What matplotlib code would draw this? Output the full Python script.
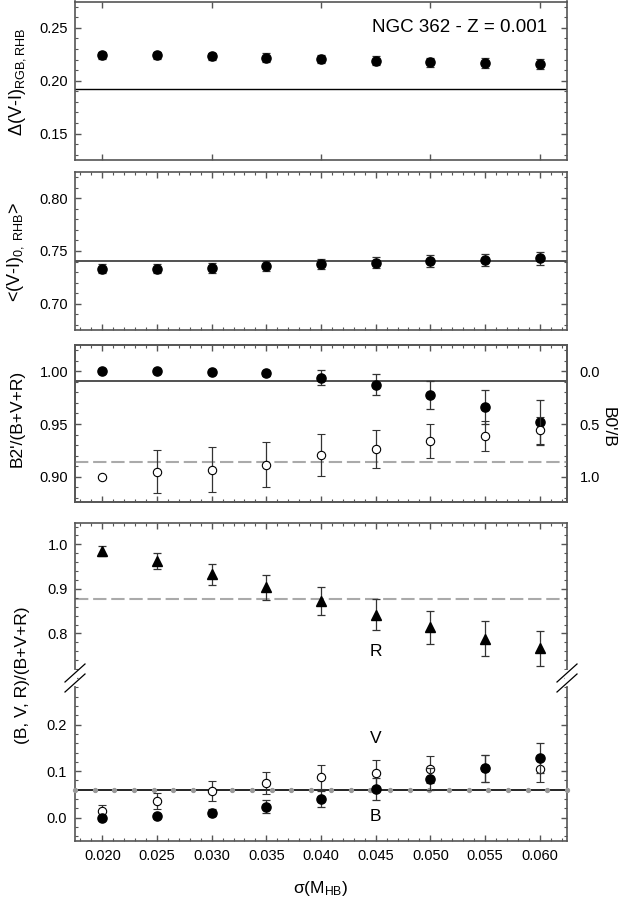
import numpy as np
import matplotlib
matplotlib.use('Agg')
import matplotlib.pyplot as plt
from matplotlib.ticker import MultipleLocator, FormatStrFormatter
from matplotlib.lines import Line2D

plt.rcParams['font.family'] = ['Liberation Sans', 'DejaVu Sans']
plt.rcParams['mathtext.fontset'] = 'custom'
plt.rcParams['mathtext.rm'] = 'Liberation Sans'
plt.rcParams['mathtext.it'] = 'Liberation Sans:italic'

# sigma(M_HB) values
sigma = [0.020, 0.025, 0.030, 0.035, 0.040, 0.045, 0.050, 0.055, 0.060]

# panel 1: Delta(V-I) RGB,RHB
dvi = [0.224, 0.224, 0.223, 0.222, 0.2205, 0.219, 0.2175, 0.2168, 0.2157]
dvi_err = [0.003, 0.003, 0.0035, 0.004, 0.004, 0.0042, 0.0045, 0.0048, 0.005]
dvi_ref = 0.1925

# panel 2: <(V-I)0,RHB>
vi0 = [0.7333, 0.7333, 0.7340, 0.7358, 0.7375, 0.7390, 0.7405, 0.7415, 0.7430]
vi0_err = [0.004, 0.0045, 0.0045, 0.005, 0.005, 0.0052, 0.0055, 0.0055, 0.006]
vi0_ref = 0.7402

# panel 3: B2'/(B+V+R) (left) and B0'/B (right)
b2 = [1.000, 1.000, 0.9995, 0.998, 0.994, 0.9875, 0.9778, 0.9665, 0.9515]
b2_err = [0.0004, 0.0004, 0.0008, 0.002, 0.0073, 0.0104, 0.0135, 0.016, 0.021]
b2_ref = 0.991
b0 = [1.00, 0.953, 0.932, 0.885, 0.797, 0.734, 0.664, 0.612, 0.56]
b0_err = [0.0, 0.205, 0.21, 0.21, 0.20, 0.18, 0.16, 0.145, 0.13]
b0_ref = 0.86

# panel 4: B, V, R fractions
frac_r = [0.985, 0.9625, 0.933, 0.9036, 0.8733, 0.8418, 0.8135, 0.788, 0.7663]
frac_r_err = [0.0116, 0.018, 0.0236, 0.028, 0.031, 0.035, 0.037, 0.039, 0.040]
frac_r_ref = 0.878
frac_b = [0.0, 0.003, 0.011, 0.024, 0.040, 0.062, 0.083, 0.106, 0.129]
frac_b_err = [0.002, 0.003, 0.007, 0.014, 0.018, 0.023, 0.024, 0.029, 0.032]
frac_v = [0.015, 0.036, 0.057, 0.074, 0.087, 0.096, 0.104, 0.106, 0.105]
frac_v_err = [0.012, 0.018, 0.0216, 0.024, 0.026, 0.029, 0.029, 0.029, 0.028]
frac_b_ref = 0.060

W, H = 623, 900
XL, XR = 75, 567
XLIM = (0.0175, 0.0625)
SPINE = '#555555'
ECOL = '#333333'

fig = plt.figure(figsize=(W / 100, H / 100), dpi=100)


def px_axes(top, bottom):
    return fig.add_axes([XL / W, 1 - bottom / H, (XR - XL) / W, (bottom - top) / H])


def px_text(x, y, s, **kw):
    kw.setdefault('ha', 'center')
    kw.setdefault('va', 'center')
    kw.setdefault('fontsize', 12.5)
    return fig.text(x / W, 1 - y / H, s, **kw)


def style(ax, ymin_step, xfine=True):
    for s in ax.spines.values():
        s.set_color(SPINE)
        s.set_linewidth(1.2)
    ax.tick_params(which='both', direction='in', top=True, right=True,
                   colors=SPINE, labelcolor='black', labelsize=10.5, pad=5)
    ax.tick_params(which='major', length=4, width=1)
    ax.tick_params(which='minor', length=2.2, width=0.8)
    ax.yaxis.set_minor_locator(MultipleLocator(ymin_step))
    if xfine:
        ax.xaxis.set_major_locator(MultipleLocator(0.005))
        ax.xaxis.set_minor_locator(MultipleLocator(0.001))
    else:
        ax.xaxis.set_major_locator(MultipleLocator(0.01))
    ax.set_xlim(*XLIM)
    ax.tick_params(labelbottom=False)


def filled(ax, y, e, marker='o', ms=6.6):
    ax.errorbar(sigma, y, yerr=e, fmt=marker, ms=ms, mfc='black', mec='black',
                ecolor=ECOL, elinewidth=0.9, capsize=2.7, capthick=0.9, zorder=5)


def hollow(ax, y, e):
    ax.errorbar(sigma, y, yerr=e, fmt='o', ms=6, mfc='white', mec='black', mew=0.8,
                ecolor=ECOL, elinewidth=0.9, capsize=2.7, capthick=0.9, zorder=4)


# Panel 1
ax1 = px_axes(1.5, 160)
style(ax1, 0.01, xfine=False)
ax1.set_ylim(0.125, 0.275)
ax1.set_yticks([0.15, 0.20, 0.25])
ax1.yaxis.set_major_formatter(FormatStrFormatter('%.2f'))
ax1.axhline(dvi_ref, color='black', lw=1.0, zorder=2)
filled(ax1, dvi, dvi_err)
ax1.text(0.0607, 0.25, 'NGC 362 - Z = 0.001', ha='right', va='center', fontsize=13.5)
px_text(18, 82, 'Δ(V-I)$_{\\mathrm{RGB,RHB}}$', rotation=90, fontsize=13)

# Panel 2
ax2 = px_axes(172, 330)
style(ax2, 0.01)
ax2.set_ylim(0.675, 0.825)
ax2.set_yticks([0.70, 0.75, 0.80])
ax2.yaxis.set_major_formatter(FormatStrFormatter('%.2f'))
ax2.axhline(vi0_ref, color='#333333', lw=1.2, zorder=2)
filled(ax2, vi0, vi0_err)
px_text(16, 252, '<(V-I)$_{\\mathrm{0,\\ RHB}}$>', rotation=90, fontsize=13)

# Panel 3
ax3 = px_axes(345, 502)
style(ax3, 0.01)
ax3.tick_params(which='both', right=False)
ax3.set_ylim(0.876, 1.025)
ax3.set_yticks([0.90, 0.95, 1.00])
ax3.yaxis.set_major_formatter(FormatStrFormatter('%.2f'))
ax3.axhline(b2_ref, color='#333333', lw=1.2, zorder=2)
filled(ax3, b2, b2_err)
px_text(17, 418, "B2'/(B+V+R)", rotation=90)

ax3r = ax3.twinx()
ax3r.set_ylim(1.24, -0.25)
for s in ax3r.spines.values():
    s.set_color(SPINE)
    s.set_linewidth(1.2)
ax3r.tick_params(which='both', direction='in', colors=SPINE, labelcolor='black',
                 labelsize=10.5, pad=9)
ax3r.tick_params(which='major', length=4, width=1)
ax3r.tick_params(which='minor', length=2.2, width=0.8)
ax3r.set_yticks([0.0, 0.5, 1.0])
ax3r.yaxis.set_minor_locator(MultipleLocator(0.1))
ax3r.yaxis.set_major_formatter(FormatStrFormatter('%.1f'))
ax3r.axhline(b0_ref, color='#aaaaaa', lw=1.5, dashes=(6.4, 2.3), zorder=1)
hollow(ax3r, b0, b0_err)
ax3r.set_xlim(*XLIM)
px_text(608, 427, "B0'/B", rotation=270)

# Panel 4 (broken axis)
ax4a = px_axes(523, 678)
style(ax4a, 0.02)
ax4a.spines['bottom'].set_visible(False)
ax4a.tick_params(which='both', bottom=False)
ax4a.set_ylim(0.70, 1.048)
ax4a.set_yticks([0.8, 0.9, 1.0])
ax4a.yaxis.set_major_formatter(FormatStrFormatter('%.1f'))
ax4a.axhline(frac_r_ref, color='#aaaaaa', lw=1.5, dashes=(6.4, 2.3), zorder=1)
filled(ax4a, frac_r, frac_r_err, marker='^', ms=7)
ax4a.text(0.045, 0.759, 'R', ha='center', va='center', fontsize=12.5)

ax4b = px_axes(678, 841)
style(ax4b, 0.02)
ax4b.spines['top'].set_visible(False)
ax4b.tick_params(which='both', top=False)
ax4b.set_ylim(-0.05, 0.30)
ax4b.set_yticks([0.0, 0.1, 0.2])
ax4b.yaxis.set_major_formatter(FormatStrFormatter('%.1f'))
ax4b.axhline(frac_b_ref, color='black', lw=1.2, zorder=2)
ref_x = np.linspace(XLIM[0], XLIM[1], 26)
ax4b.plot(ref_x, np.full(ref_x.size, frac_b_ref), 'o', ms=2.8, color='#999999',
          ls='none', zorder=3, clip_on=False)
hollow(ax4b, frac_v, frac_v_err)
filled(ax4b, frac_b, frac_b_err)
ax4b.text(0.045, 0.171, 'V', ha='center', va='center', fontsize=12.5)
ax4b.text(0.045, 0.003, 'B', ha='center', va='center', fontsize=12.5)
ax4b.tick_params(labelbottom=True, pad=6)
ax4b.xaxis.set_major_formatter(FormatStrFormatter('%.3f'))

px_text(23, 675, '(B, V, R)/(B+V+R)', rotation=90)
px_text(321, 888, 'σ(M$_{\\mathrm{HB}}$)')

# break marks on both vertical spines
for xs in (XL, XR):
    fig.add_artist(Line2D([xs / W, xs / W], [1 - 672 / H, 1 - 684 / H], color='white',
                          lw=3, transform=fig.transFigure))
    for y0 in (673, 683):
        fig.add_artist(Line2D([(xs - 10) / W, (xs + 10) / W],
                              [1 - (y0 + 9) / H, 1 - (y0 - 9) / H],
                              color='black', lw=0.9, transform=fig.transFigure))

fig.savefig('out.png', dpi=100)
